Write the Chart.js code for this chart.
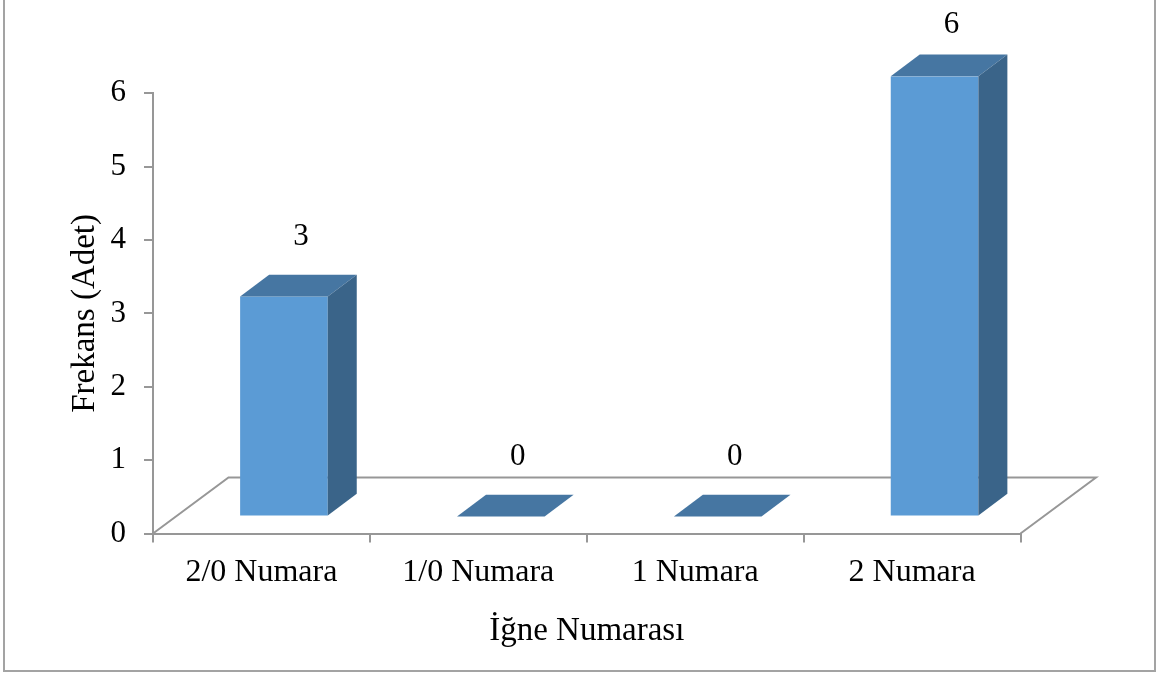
<!DOCTYPE html>
<html>
<head>
<meta charset="utf-8">
<script src="https://cdn.jsdelivr.net/npm/chart.js@4.4.1/dist/chart.umd.min.js"></script>
<style>
  html, body { margin: 0; padding: 0; background: #ffffff; }
  #wrap { width: 1161px; height: 677px; position: relative; }
</style>
</head>
<body>
<div id="wrap"><canvas id="chart" width="1161" height="677"></canvas></div>
<script>
// Needle size categories and how often each one occurs
const categories = ['2/0 Numara', '1/0 Numara', '1 Numara', '2 Numara'];
const frequencies = [3, 0, 0, 6];
const yTickValues = [0, 1, 2, 3, 4, 5, 6];
const xAxisTitle = 'İğne Numarası';
const yAxisTitle = 'Frekans (Adet)';

const SERIF = "'Liberation Serif', 'Times New Roman', serif";
const AXIS_GREY = '#979797';
const FRONT = '#5b9bd5';
const TOP = '#4676a2';
const SIDE = '#3a6489';

// Perspective used for the pseudo-3D floor and bars
const FLOOR_DEPTH = { dx: 75.5, dy: -56 };   // full depth of the floor
const BAR_SHIFT = { dx: 22.5, dy: -17 };     // bar front face sits this far back
const BAR_DEPTH = { dx: 29, dy: -21.7 };     // thickness of each bar

const box3d = {
  id: 'box3d',
  beforeDraw(chart) {
    const ctx = chart.ctx;
    ctx.save();
    ctx.strokeStyle = '#a3a3a3';
    ctx.lineWidth = 2;
    ctx.strokeRect(4, -10, 1151, 681);
    ctx.restore();
  },
  beforeDatasetsDraw(chart) {
    const ctx = chart.ctx;
    const x = chart.scales.x, y = chart.scales.y;
    const y0 = y.getPixelForValue(0);
    const l = x.left, r = x.right;
    ctx.save();
    ctx.strokeStyle = AXIS_GREY;
    ctx.lineWidth = 2;
    ctx.beginPath();
    ctx.moveTo(l, y0);
    ctx.lineTo(l + FLOOR_DEPTH.dx, y0 + FLOOR_DEPTH.dy);
    ctx.lineTo(r + FLOOR_DEPTH.dx, y0 + FLOOR_DEPTH.dy);
    ctx.lineTo(r, y0);
    ctx.stroke();
    ctx.restore();
    // front faces are drawn by the bar controller, pushed back into the floor
    ctx.save();
    ctx.translate(BAR_SHIFT.dx, BAR_SHIFT.dy);
  },
  afterDatasetsDraw(chart) {
    const ctx = chart.ctx;
    ctx.restore();
    const meta = chart.getDatasetMeta(0);
    const data = chart.data.datasets[0].data;
    meta.data.forEach((el, i) => {
      const p = el.getProps(['x', 'y', 'base', 'width'], true);
      const L = p.x - p.width / 2 + BAR_SHIFT.dx;
      const R = p.x + p.width / 2 + BAR_SHIFT.dx;
      const T = p.y + BAR_SHIFT.dy;
      const B = p.base + BAR_SHIFT.dy;
      const dx = BAR_DEPTH.dx, dy = BAR_DEPTH.dy;
      ctx.save();
      // top face
      ctx.fillStyle = TOP;
      ctx.beginPath();
      ctx.moveTo(L, T);
      ctx.lineTo(R, T);
      ctx.lineTo(R + dx, T + dy);
      ctx.lineTo(L + dx, T + dy);
      ctx.closePath();
      ctx.fill();
      // right side face
      if (B - T > 0.5) {
        ctx.fillStyle = SIDE;
        ctx.beginPath();
        ctx.moveTo(R, T);
        ctx.lineTo(R + dx, T + dy);
        ctx.lineTo(R + dx, B + dy);
        ctx.lineTo(R, B);
        ctx.closePath();
        ctx.fill();
      }
      // value label above the bar
      ctx.fillStyle = '#000000';
      ctx.font = '31px ' + SERIF;
      ctx.textAlign = 'center';
      ctx.textBaseline = 'middle';
      const lx = (L + R) / 2 + 17;
      const ly = Math.max(T - 60, 25);
      ctx.fillText(String(data[i]), lx, ly);
      ctx.restore();
    });
  }
};

new Chart(document.getElementById('chart'), {
  type: 'bar',
  data: {
    labels: categories,
    datasets: [{
      data: frequencies,
      backgroundColor: FRONT,
      borderWidth: 0,
      barPercentage: 0.404,
      categoryPercentage: 1.0
    }]
  },
  options: {
    responsive: false,
    animation: false,
    devicePixelRatio: 1,
    layout: { padding: { top: 93.3, right: 140.5, left: 0, bottom: 0 } },
    plugins: { legend: { display: false }, tooltip: { enabled: false } },
    scales: {
      x: {
        type: 'category',
        offset: true,
        grid: { display: true, drawOnChartArea: false, drawTicks: true, tickLength: 9, color: AXIS_GREY, lineWidth: 2, offset: true },
        border: { display: true, color: AXIS_GREY, width: 2 },
        ticks: { color: '#000000', font: { family: SERIF, size: 32 }, padding: 11, maxRotation: 0, autoSkip: false },
        title: { display: true, text: xAxisTitle, color: '#000000', font: { family: SERIF, size: 33 }, padding: { top: 0, bottom: 26 } },
        afterFit(s) { s.height = 143.5; }
      },
      y: {
        min: 0,
        max: 6,
        afterBuildTicks(s) { s.ticks = yTickValues.map(v => ({ value: v })); },
        grid: { display: true, drawOnChartArea: false, drawTicks: true, tickLength: 9, color: AXIS_GREY, lineWidth: 2 },
        border: { display: true, color: AXIS_GREY, width: 2 },
        ticks: { color: '#000000', font: { family: SERIF, size: 31 }, padding: 18 },
        title: { display: true, text: yAxisTitle, color: '#000000', font: { family: SERIF, size: 33 }, padding: { top: 66, bottom: 0 } },
        afterFit(s) { s.width = 153; }
      }
    }
  },
  plugins: [box3d]
});
</script>
</body>
</html>
